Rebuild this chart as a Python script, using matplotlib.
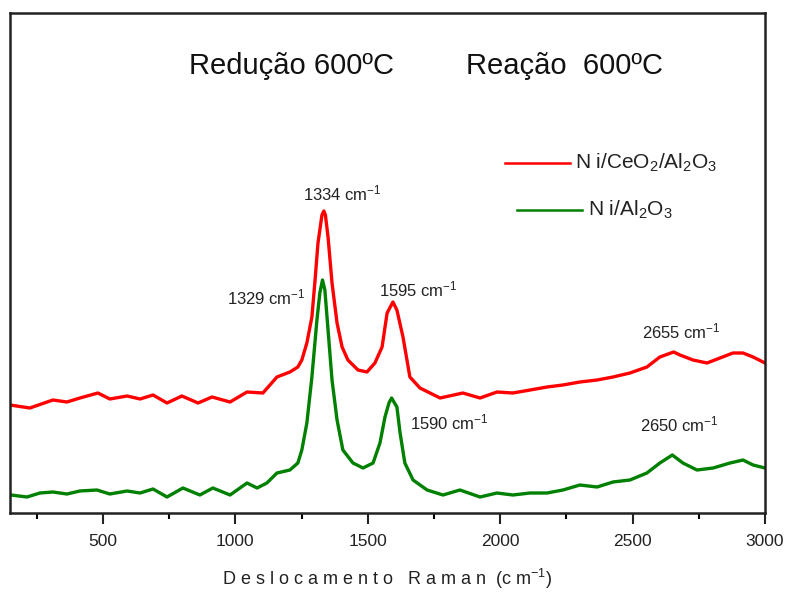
import matplotlib
matplotlib.use("Agg")
import matplotlib.pyplot as plt
from matplotlib.lines import Line2D

plt.rcParams["font.family"] = ["Liberation Sans", "DejaVu Sans"]
plt.rcParams["mathtext.fontset"] = "custom"
plt.rcParams["mathtext.rm"] = "Liberation Sans"
plt.rcParams["mathtext.it"] = "Liberation Sans:italic"
plt.rcParams["mathtext.bf"] = "Liberation Sans:bold"

# Raman shift (cm-1) and intensity (a.u.) for Ni/CeO2/Al2O3
shift_ceo2 = [149, 224, 311, 364, 413, 481, 526, 591, 640, 689, 742, 798, 859, 912,
              980, 1044, 1104, 1157, 1206, 1236, 1251, 1270, 1289, 1301, 1312, 1327,
              1334, 1340, 1350, 1365, 1384, 1403, 1425, 1463, 1497, 1527, 1554, 1573,
              1595, 1610, 1633, 1659, 1697, 1773, 1859, 1924, 1988, 2048, 2113, 2177,
              2237, 2301, 2366, 2426, 2490, 2554, 2603, 2655, 2679, 2728, 2781, 2830,
              2879, 2917, 2955, 3000]
int_ceo2 = [108, 105, 113, 111, 115, 120, 114, 117, 114, 118, 110, 117, 110, 116,
            111, 121, 120, 136, 141, 146, 153, 170, 196, 233, 270, 298,
            302, 298, 276, 230, 190, 166, 153, 143, 141, 150, 166, 200,
            211, 203, 176, 136, 125, 115, 120, 115, 121, 120, 123, 126,
            128, 131, 133, 136, 140, 146, 156, 161, 158, 153, 150, 155,
            160, 160, 156, 150]

# Raman shift (cm-1) and intensity (a.u.) for Ni/Al2O3
shift_al2o3 = [153, 213, 262, 311, 364, 413, 477, 526, 591, 640, 689, 742, 802, 866,
               915, 980, 1044, 1082, 1119, 1157, 1206, 1236, 1251, 1270, 1289, 1308,
               1319, 1329, 1338, 1350, 1365, 1384, 1406, 1444, 1482, 1520, 1546, 1565,
               1580, 1590, 1610, 1622, 1640, 1671, 1724, 1784, 1848, 1924, 1988, 2048,
               2113, 2177, 2237, 2301, 2366, 2426, 2490, 2554, 2603, 2650, 2690, 2743,
               2804, 2868, 2917, 2955, 3000]
int_al2o3 = [18, 16, 20, 21, 19, 22, 23, 19, 22, 20, 24, 16, 25, 18,
             25, 18, 30, 25, 30, 40, 43, 50, 63, 90, 136, 193,
             220, 233, 223, 183, 133, 93, 63, 50, 45, 50, 70, 96,
             110, 115, 106, 80, 50, 33, 23, 18, 23, 16, 20, 18,
             20, 20, 23, 28, 26, 31, 33, 40, 50, 58, 50, 43,
             45, 50, 53, 48, 45]

series_names = ["N i/CeO$_2$/Al$_2$O$_3$", "N i/Al$_2$O$_3$"]
series_colors = ["#ff0000", "#008000"]

# Peak labels: (text, left x, y) in data units
peak_labels = [
    ("1334 cm$^{-1}$", 1255, 320),
    ("1329 cm$^{-1}$", 968, 216),
    ("1595 cm$^{-1}$", 1542, 224),
    ("2655 cm$^{-1}$", 2535, 182),
    ("1590 cm$^{-1}$", 1659, 91),
    ("2650 cm$^{-1}$", 2528, 89),
]

xticks = [500, 1000, 1500, 2000, 2500, 3000]

fig = plt.figure(figsize=(7.88, 5.94), dpi=100)
ax = fig.add_axes([10 / 788, 81 / 594, 755 / 788, 500 / 594])

ax.plot(shift_ceo2, int_ceo2, color=series_colors[0], lw=2.4)
ax.plot(shift_al2o3, int_al2o3, color=series_colors[1], lw=2.4)

ax.set_xlim(149, 3000)
ax.set_ylim(0, 500)
ax.set_yticks([])
ax.set_xticks(xticks)
ax.set_xticks([250, 750, 1250, 1750, 2250, 2750], minor=True)
ax.tick_params(axis="x", which="major", direction="out", length=8, width=1.5,
               labelsize=12.5, pad=7, colors="#222222")
ax.tick_params(axis="x", which="minor", direction="out", length=4, width=1.5)
for sp in ax.spines.values():
    sp.set_linewidth(1.8)
    sp.set_color("#222222")

ax.set_xlabel("D e s l o c a m e n t o   R a m a n  (c m$^{-1}$)", fontsize=13,
              labelpad=13, color="#222222")

for txt, x, y in peak_labels:
    ax.text(x, y, txt, fontsize=12, ha="left", va="center", color="#222222")

# Headings
ax.text(0.373, 0.895, "Redução 600ºC", transform=ax.transAxes, fontsize=21,
        ha="center", va="center", color="#111111")
ax.text(0.735, 0.895, "Reação  600ºC", transform=ax.transAxes, fontsize=21,
        ha="center", va="center", color="#111111")

# Hand-placed legend
leg_rows = [(505 / 788, 570 / 788, 163, 575 / 788),
            (517 / 788, 582 / 788, 210, 588 / 788)]
for (x0, x1, py, xt), name, col in zip(leg_rows, series_names, series_colors):
    yf = (594 - py) / 594
    fig.add_artist(Line2D([x0, x1], [yf, yf], color=col, lw=1.8,
                          transform=fig.transFigure))
    fig.text(xt, yf, name, fontsize=15, ha="left", va="center", color="#222222")

fig.savefig("out.png", dpi=100)
